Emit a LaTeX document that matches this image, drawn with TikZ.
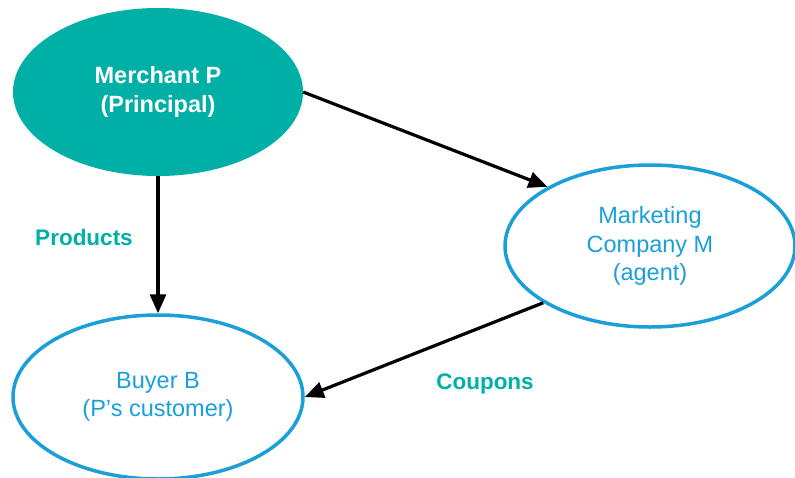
\documentclass[tikz,border=0pt]{standalone}
\usepackage{fontspec}
\setmainfont{Liberation Sans}
\usetikzlibrary{shapes.geometric,arrows.meta}
\definecolor{tealc}{HTML}{00AFA6}
\definecolor{bluec}{HTML}{1A9FD9}
\tikzset{
  bigtxt/.style={font=\fontsize{23.5}{28.5}\selectfont, align=center},
  principal/.style={ellipse, fill=tealc, draw=none, minimum width=290pt, minimum height=168pt, text=white, bigtxt, font=\fontsize{23.5}{28.5}\selectfont\bfseries},
  party/.style={ellipse, draw=bluec, line width=3.5pt, minimum width=290pt, minimum height=162pt, text=bluec, bigtxt},
  flow/.style={line width=3.2pt, -{Triangle[length=19pt,width=16pt]}},
  lbl/.style={text=tealc, font=\fontsize{22.5}{27}\selectfont\bfseries}
}
\begin{document}
\begin{tikzpicture}[x=1pt,y=-1pt]
\useasboundingbox (0,0) rectangle (795,477);
\node[principal] (m) at (158,92) {Merchant P\\(Principal)};
\node[party] (mk) at (650,246) {Marketing\\Company M\\(agent)};
\node[party, minimum height=164pt] (b) at (158,397) {Buyer B\\(P’s customer)};
\draw[flow] (m.east) -- (mk.150);
\draw[flow] (m.south) -- (b.north);
\draw[flow] (mk.208) -- (b.east);
\node[lbl] (lp) at (84,237) {Products};
\node[lbl] (lc) at (485,384) {Coupons};
\end{tikzpicture}
\end{document}
